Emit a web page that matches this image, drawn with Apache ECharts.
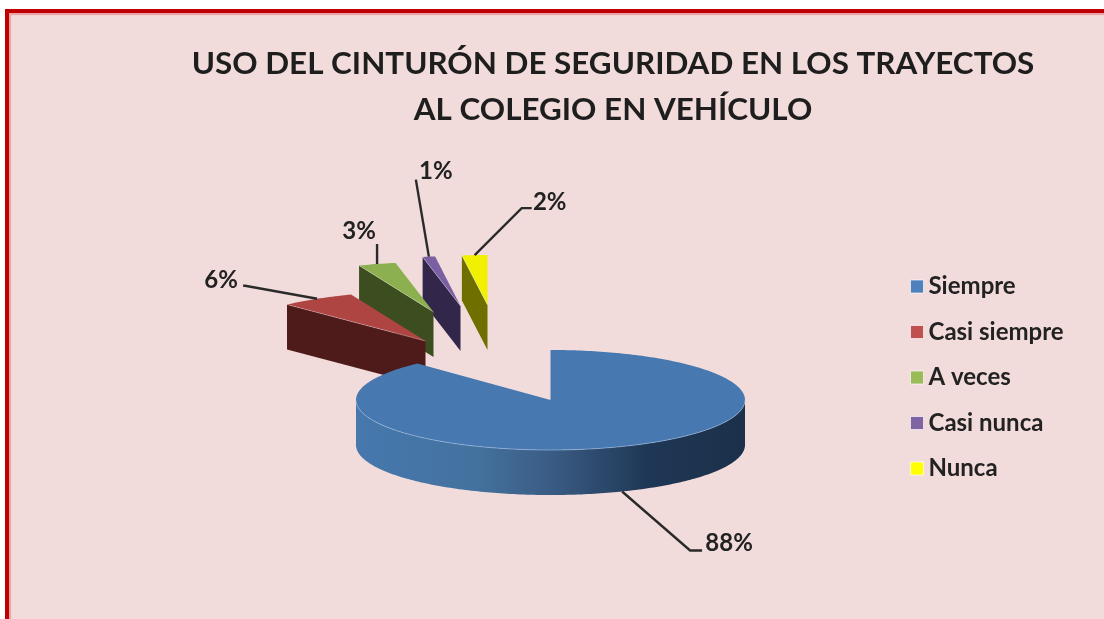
<!DOCTYPE html>
<html>
<head>
<meta charset="utf-8">
<style>
html,body{margin:0;padding:0;background:#fff;width:1104px;height:619px;overflow:hidden}
#frame{position:absolute;left:5px;top:9px;right:-10px;bottom:-10px;background:#F2DCDB;border-left:4px solid #C00000;border-top:4px solid #C00000;box-shadow:inset 2px 2px 1px rgba(220,90,90,.45)}
#chart{position:absolute;left:0;top:0;width:1104px;height:619px;filter:blur(.5px)}
</style>
<script src="https://cdn.jsdelivr.net/npm/echarts@6/dist/echarts.min.js"></script>
</head>
<body>
<div id="frame"></div>
<div id="chart"></div>
<script>
// --- data ---
const titleLines = ['USO DEL CINTURÓN DE SEGURIDAD EN LOS TRAYECTOS', 'AL COLEGIO EN VEHÍCULO'];
const categories = ['Siempre', 'Casi siempre', 'A veces', 'Casi nunca', 'Nunca'];
const percentages = [88, 6, 3, 1, 2];

// --- styles ---
const legendColors = ['#4F81BD', '#C0504D', '#9BBB59', '#8064A2', '#FFFF00'];
const topColors = ['#4778B0', '#AE4542', '#8CAF4F', '#7A5FA3', '#F0F000'];
const wallColors = [null, '#4E1B1A', '#3C4D1F', '#32274A', '#6F6F00'];

// --- layout of the flattened, extruded pie ---
const pie = {cx: 550.5, cy: 400, rx: 194.5, ry: 50, depth: 45};
const explodeOffsets = [[0, 0], [-125, -59], [-117, -88], [-90, -94], [-63, -95]];
const rimStretch = [1, 1.04, 1.04, 1.04, 1.05];
// leader elbow and end relative to the slice's rim midpoint, label offset relative to the line end
const leaderBends = [[68, 59, 12, 0], [-72, -13, -2, 0], [0, -20, 0, 0], [-13, -77, 0, 0], [47, -47, 10, 0]];
const labelOffsets = [[27, -7], [-22, -6], [-18, -13], [20, -8], [18, -6]];

const total = percentages.reduce((a, b) => a + b, 0);
const FONT = 'Lato, Carlito, "Open Sans", sans-serif';

function sliceRange(i) {
  let before = 0;
  for (let k = 0; k < i; k++) before += percentages[k];
  return [before / total * 360, (before + percentages[i]) / total * 360];
}
function rimPoint(i, angle, drop) {
  const r = angle * Math.PI / 180;
  const off = explodeOffsets[i];
  return [pie.cx + off[0] + pie.rx * rimStretch[i] * Math.sin(r), pie.cy + off[1] - pie.ry * Math.cos(r) + (drop || 0)];
}
function arcPoints(i, a0, a1, drop) {
  const pts = [];
  const n = Math.max(2, Math.ceil(Math.abs(a1 - a0)));
  for (let k = 0; k <= n; k++) pts.push(rimPoint(i, a0 + (a1 - a0) * k / n, drop));
  return pts;
}

function makeRenderItem(i) {
  return function (params, api) {
    const value = api.value(0);
    const range = sliceRange(i);
    const off = explodeOffsets[i];
    const apex = [pie.cx + off[0], pie.cy + off[1]];
    const apexLow = [apex[0], apex[1] + pie.depth];
    const children = [];
    const wallFill = i === 0
      ? new echarts.graphic.LinearGradient(0, 0, 1, 0, [
          {offset: 0, color: '#4678AE'}, {offset: .3, color: '#44729F'},
          {offset: .5, color: '#3A5C84'}, {offset: .75, color: '#1F3756'}, {offset: 1, color: '#1B3049'}])
      : wallColors[i];

    // radial walls facing the viewer
    if (range[0] > 180) {
      const p = rimPoint(i, range[0]);
      children.push({type: 'polygon', shape: {points: [apex, p, [p[0], p[1] + pie.depth], apexLow]},
        style: {fill: wallFill}});
    }
    if (range[1] < 180) {
      const p = rimPoint(i, range[1]);
      children.push({type: 'polygon', shape: {points: [apex, p, [p[0], p[1] + pie.depth], apexLow]},
        style: {fill: wallFill}});
    }
    // outer wall, front half of the rim only
    const fa0 = Math.max(range[0], 90), fa1 = Math.min(range[1], 270);
    if (fa1 > fa0) {
      const upper = arcPoints(i, fa0, fa1, 0);
      const lower = arcPoints(i, fa1, fa0, pie.depth);
      children.push({type: 'polygon', shape: {points: upper.concat(lower)}, style: {fill: wallFill}});
    }
    // top face
    const top = [apex].concat(arcPoints(i, range[0], range[1], 0));
    children.push({type: 'polygon', shape: {points: top}, style: {fill: topColors[i]}});
    // pale highlight where the top meets the wall
    if (fa1 > fa0) {
      children.push({type: 'polyline', shape: {points: arcPoints(i, fa0, fa1, 0)},
        style: {fill: null, stroke: 'rgba(170,200,235,.55)', lineWidth: 1}});
    }
    if (range[0] > 180) {
      children.push({type: 'polyline', shape: {points: [apex, rimPoint(i, range[0])]},
        style: {fill: null, stroke: 'rgba(255,255,255,.3)', lineWidth: 1}});
    }

    // leader line and label, anchored to the rim middle of the slice
    const mid = (range[0] + range[1]) / 2;
    const onFront = mid > 90 && mid < 270;
    const a = rimPoint(i, mid, onFront ? pie.depth : 0);
    const b = leaderBends[i];
    const elbow = [a[0] + b[0], a[1] + b[1]];
    const end = [elbow[0] + b[2], elbow[1] + b[3]];
    children.push({type: 'polyline', shape: {points: [a, elbow, end]},
      style: {fill: null, stroke: '#2A2A2A', lineWidth: 2.4}});
    children.push({type: 'text', x: end[0] + labelOffsets[i][0], y: end[1] + labelOffsets[i][1],
      style: {text: value + '%', align: 'center', verticalAlign: 'middle',
        font: 'bold 24px ' + FONT, fill: '#222'}});

    return {type: 'group', children: children};
  };
}

const chart = echarts.init(document.getElementById('chart'), null, {renderer: 'canvas'});
chart.setOption({
  animation: false,
  backgroundColor: 'transparent',
  title: {
    text: titleLines.join('\n'),
    left: 608, top: 36, textAlign: 'center',
    textStyle: {fontFamily: FONT, fontSize: 31.4, fontWeight: 'bold', color: '#1E1E1E', lineHeight: 46}
  },
  legend: {
    orient: 'vertical', left: 905, top: 268.5,
    data: categories,
    itemWidth: 13, itemHeight: 13, itemGap: 19.5,
    icon: 'rect',
    itemStyle: {borderColor: 'rgba(255,255,255,.65)', borderWidth: 1},
    textStyle: {fontFamily: FONT, fontSize: 24, fontWeight: 'bold', color: '#222', lineHeight: 26},
    selectedMode: false
  },
  series: categories.map((name, i) => ({
    type: 'custom',
    name: name,
    coordinateSystem: 'none',
    z: 10 - i,
    itemStyle: {color: legendColors[i]},
    data: [{name: name, value: percentages[i]}],
    renderItem: makeRenderItem(i),
    silent: true
  }))
});
</script>
</body>
</html>
